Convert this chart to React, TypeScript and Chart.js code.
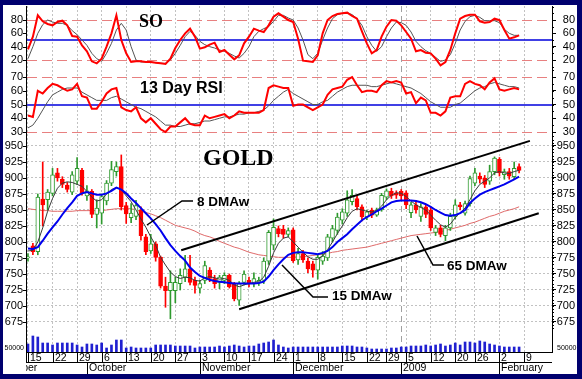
import React, { useEffect, useRef } from 'react';
import { Chart, registerables } from 'chart.js';
Chart.register(...registerables);

// ---------------- data (trading-day index 0 = 15 Sep 2008) ----------------
const openP = [775,794,785,867,866,876,908,898,889,878,895,912,872,879,843,845,864,892,910,918,857,838,840,850,808,786,797,776,731,724,724,735,745,758,740,728,740,756,743,737,740,748,735,709,737,740,735,736,740,770,795,821,820,812,819,772,782,770,766,756,770,775,806,818,834,845,863,868,855,839,850,842,850,870,879,877,879,877,846,858,840,855,850,815,822,810,822,840,858,845,860,892,903,900,895,910,929,905,910,902,918];
const highP = [782,798,875,925,882,915,915,902,893,910,932,915,888,882,866,875,896,926,925,936,862,860,865,855,812,812,800,778,745,755,745,758,779,779,745,740,770,760,748,748,752,750,737,738,755,745,752,745,775,818,836,825,826,822,822,790,787,775,770,780,785,812,826,845,852,880,882,872,858,850,853,853,876,883,884,880,882,880,862,865,860,858,855,826,826,826,845,866,862,864,903,915,908,904,920,933,932,914,915,925,922];
const lowP = [770,780,780,825,850,872,895,885,878,874,890,873,865,838,822,828,858,888,903,850,829,830,835,803,780,782,770,728,698,680,705,725,738,733,720,720,735,738,728,727,735,728,708,701,733,730,730,732,735,765,788,808,806,808,768,765,768,752,745,742,765,771,800,812,828,840,858,850,833,835,838,840,848,866,868,868,865,852,838,845,832,838,818,810,808,802,818,836,850,842,856,888,892,885,890,905,903,898,898,898,908];
const closeP = [777,785,870,858,878,905,900,890,882,905,915,876,880,843,853,871,892,913,918,855,844,845,857,810,785,797,776,731,724,737,737,748,758,737,732,735,763,743,735,745,748,730,711,735,750,735,743,740,770,815,823,813,812,818,771,782,772,758,756,776,778,808,821,839,847,866,873,855,839,847,842,850,873,880,872,873,872,858,858,850,855,843,822,822,812,822,840,858,855,860,899,908,898,890,910,931,908,910,903,915,912];
const ma8 = [786,787,800,822,848,868,884,892,894,893,890,887,879,870,864,866,875,882,885,882,872,863,850,836,823,808,795,776,764,753,746,743,745,744,740,739,744,746,744,742,743,740,733,730,733,735,737,738,745,762,783,798,806,808,800,792,784,777,773,773,778,788,800,813,825,838,848,852,850,848,847,849,856,866,873,877,876,871,864,858,854,850,842,834,827,823,828,838,846,853,866,880,890,895,900,908,910,908,907,910,912];
const ma15 = [790,789,792,802,813,823,832,843,853,862,872,876,878,876,874,874,876,880,885,882,876,868,861,853,845,837,828,818,806,795,786,778,771,760,753,747,744,741,739,738,737,736,735,735,735,735,735,736,738,746,756,765,773,780,783,784,784,783,782,781,783,786,792,800,806,812,820,827,834,839,843,848,852,857,862,864,865,865,865,864,862,859,855,850,846,842,841,842,845,850,861,868,874,878,881,884,887,890,894,898,902];
const ma65 = [852,851,850,849,849,848,848,848,848,848,849,849,849,849,849,849,850,851,852,852,852,852,850,848,846,844,841,838,834,830,826,824,822,820,817,813,810,808,805,801,798,795,792,790,787,784,782,780,779,778,777,776,776,776,776,777,777,778,779,780,781,782,784,785,787,788,789,790,791,792,794,796,798,800,802,804,806,808,810,811,812,813,814,815,816,818,820,822,824,826,829,831,834,837,840,842,845,848,850,852,855];
const soFast = [36,55,87,78,74,72,77,79,72,56,55,42,33,18,15,22,40,60,87,50,30,17,18,18,17,17,16,15,14,22,38,50,60,67,55,37,39,43,46,32,35,28,21,27,45,55,67,64,62,72,85,90,85,80,77,52,19,18,17,27,60,80,86,89,90,91,86,82,63,45,30,35,55,70,80,79,72,62,52,33,35,31,30,22,12,17,35,60,82,86,88,88,78,76,77,82,80,65,52,54,57];
const soSlow = [22,40,60,73,80,77,75,75,72,64,58,50,42,30,22,18,30,45,65,75,65,40,20,17,17,17,16,15,15,20,30,42,55,63,57,48,43,40,38,35,33,30,26,23,30,40,55,63,67,70,78,87,87,83,80,68,50,28,22,30,50,68,82,88,90,91,88,82,72,55,42,33,40,55,68,77,76,72,62,48,40,34,30,24,18,20,28,45,65,78,85,87,84,79,79,79,76,66,60,57,57];
const rsiFast = [42,41,60,58,62,65,64,62,60,61,65,56,55,47,47,52,58,61,62,48,46,45,48,40,37,40,36,32,30,34,34,37,40,36,35,35,42,40,41,42,43,40,42,45,44,44,44,44,46,62,64,63,62,62,49,50,50,48,46,48,50,57,61,62,63,68,70,64,59,60,60,59,64,67,66,67,66,58,59,51,55,53,44,44,42,45,55,56,56,65,67,65,64,61,66,69,61,60,61,62,61];
const rsiSlow = [33,35,40,46,52,57,59,61,62,62,62,59,57,55,53,53,53,55,56,54,52,50,48,47,45,43,41,38,35,35,34,34,35,36,36,37,38,38,39,40,41,41,42,43,43,44,44,45,46,49,53,56,59,61,58,56,54,52,50,50,52,53,56,59,61,63,64,64,64,64,63,63,64,65,66,65,64,63,62,60,58,55,52,50,48,48,48,50,51,54,57,60,62,63,65,66,65,64,63,63,62];
const volume = [40,80,75,45,45,35,45,45,45,45,35,25,40,40,35,45,20,35,60,60,20,25,20,20,20,20,35,35,35,35,30,30,30,30,20,25,25,25,25,30,25,30,35,30,25,30,30,40,45,50,60,35,25,20,25,25,25,25,25,25,25,25,25,25,30,30,30,25,25,20,15,15,15,15,20,20,25,25,30,30,30,35,30,35,40,30,35,45,35,50,50,45,55,50,40,35,30,25,25,25,25];

const dayTickIndex = [0,5,10,15,20,25,30,35,40,45,50,54,59,64,69,73,77,82,87,91,96,101];
const dayTickLabels = ['15','22','29','6','13','20','27','3','10','17','24','1','8','15','22','29','5','12','20','26','2','9'];
const monthStartIndex = [-9,12,35,54,76,96];
const monthLabels = ['September','October','November','December','2009','February'];
const yearStartIndex = 76;

const soTicks = [20,40,60,80];
const rsiTicks = [30,40,50,60,70];
const priceTicks = [675,700,725,750,775,800,825,850,875,900,925,950];

const channelUpperX = [31.2, 102.2];
const channelUpperY = [787, 958];
const channelLowerX = [43, 104];
const channelLowerY = [695, 845];

// ---------------- helpers ----------------
const isUp = (i: number) => closeP[i] >= openP[i];
const UPC = '#2f9a2f';
const DNC = '#ff0000';
const SANS = '"Liberation Sans", Arial, sans-serif';
const SERIF = '"Liberation Serif", "Times New Roman", serif';

const framePlugin = {
  id: 'frame',
  beforeDraw(chart: any) {
    const { ctx, width, height } = chart;
    ctx.save();
    ctx.fillStyle = '#00006e';
    ctx.fillRect(0, 0, width, height);
    ctx.fillStyle = '#ffffff';
    ctx.fillRect(3, 5, 574, 369);
    ctx.restore();
  },
};

const refLines = [
  { axis: 'ySO', v: 80, dash: true }, { axis: 'ySO', v: 20, dash: true }, { axis: 'ySO', v: 50, dash: false },
  { axis: 'yRSI', v: 70, dash: true }, { axis: 'yRSI', v: 30, dash: true }, { axis: 'yRSI', v: 50, dash: false },
];

const refLinePlugin = {
  id: 'refLines',
  beforeDatasetsDraw(chart: any) {
    const { ctx, chartArea } = chart;
    ctx.save();
    for (const r of refLines) {
      const y = Math.round(chart.scales[r.axis].getPixelForValue(r.v));
      ctx.beginPath();
      if (r.dash) {
        ctx.strokeStyle = '#e88080';
        ctx.lineWidth = 1;
        ctx.setLineDash([10, 5]);
        ctx.moveTo(chartArea.left, y + 0.5);
        ctx.lineTo(chartArea.right, y + 0.5);
      } else {
        ctx.strokeStyle = '#0000dd';
        ctx.lineWidth = 1.6;
        ctx.setLineDash([]);
        ctx.moveTo(chartArea.left, y);
        ctx.lineTo(chartArea.right, y);
      }
      ctx.stroke();
    }
    // 2009 separator
    const xs = chart.scales.x;
    const xp = Math.round(xs.getPixelForValue(yearStartIndex)) + 0.5;
    ctx.strokeStyle = '#a0a0a0';
    ctx.lineWidth = 1;
    ctx.setLineDash([6, 4]);
    ctx.beginPath();
    ctx.moveTo(xp, chartArea.top);
    ctx.lineTo(xp, chartArea.bottom);
    ctx.stroke();
    ctx.restore();
  },
};

const overlayPlugin = {
  id: 'overlay',
  afterDraw(chart: any) {
    const { ctx, chartArea } = chart;
    const L = chartArea.left, R = chartArea.right, B = chartArea.bottom;
    const xs = chart.scales.x;
    ctx.save();

    // left axis line
    ctx.strokeStyle = '#000';
    ctx.lineWidth = 1;
    ctx.setLineDash([]);
    ctx.beginPath();
    ctx.moveTo(L - 0.5, chartArea.top);
    ctx.lineTo(L - 0.5, B + 11);
    ctx.stroke();

    // y labels both sides + minor ticks
    ctx.fillStyle = '#000';
    ctx.font = `11px ${SANS}`;
    ctx.textBaseline = 'middle';
    const panels: [string, number[], number][] = [['ySO', soTicks, 10], ['yRSI', rsiTicks, 5], ['yMain', priceTicks, 5]];
    for (const [id, ticks, minor] of panels) {
      const s = chart.scales[id];
      for (const v of ticks) {
        const y = s.getPixelForValue(v);
        ctx.textAlign = 'right';
        ctx.fillText(String(v), 575, y);
        ctx.fillText(String(v), 23, y);
        ctx.fillRect(L - 4, Math.round(y), 4, 1);
      }
      for (let v = Math.ceil(s.min / minor) * minor; v <= s.max; v += minor) {
        const y = Math.round(s.getPixelForValue(v));
        ctx.fillRect(R, y, 2, 1);
      }
    }
    // volume label
    const vs = chart.scales.yVol;
    ctx.font = `7px ${SANS}`;
    ctx.textAlign = 'right';
    ctx.fillText('50000', 24, vs.getPixelForValue(20));
    ctx.textAlign = 'left';
    ctx.fillText('50000', R + 5, vs.getPixelForValue(20));

    // titles
    ctx.fillStyle = '#000';
    ctx.textBaseline = 'alphabetic';
    ctx.textAlign = 'left';
    ctx.font = `bold 18px ${SERIF}`;
    ctx.fillText('SO', 139, 27);
    ctx.font = `bold 16px ${SANS}`;
    ctx.fillText('13 Day RSI', 140, 93);
    ctx.font = `bold 24px ${SERIF}`;
    ctx.fillText('GOLD', 203, 165);
    ctx.font = `bold 13.5px ${SANS}`;
    ctx.fillText('8 DMAw', 197, 206);
    ctx.fillText('15 DMAw', 332, 300);
    ctx.fillText('65 DMAw', 447, 270);

    // leader lines
    ctx.strokeStyle = '#000';
    ctx.lineWidth = 1.5;
    const leaders = [
      [[193, 201], [182, 201], [147, 225]],
      [[328, 297], [313, 297], [282, 265]],
      [[444, 265], [433, 265], [417, 236]],
    ];
    for (const pts of leaders) {
      ctx.beginPath();
      ctx.moveTo(pts[0][0], pts[0][1]);
      for (let k = 1; k < pts.length; k++) ctx.lineTo(pts[k][0], pts[k][1]);
      ctx.stroke();
    }

    // date rows
    ctx.save();
    ctx.beginPath();
    ctx.rect(L - 1, B, R - L + 2, 374 - B);
    ctx.clip();
    ctx.lineWidth = 1;
    ctx.strokeStyle = '#000';
    ctx.beginPath();
    ctx.moveTo(L, B + 0.5); ctx.lineTo(R, B + 0.5);
    ctx.moveTo(L, B + 10.5); ctx.lineTo(R, B + 10.5);
    for (const idx of dayTickIndex) {
      const px = Math.round(xs.getPixelForValue(idx)) + 0.5;
      ctx.moveTo(px, B); ctx.lineTo(px, B + 11);
    }
    for (const idx of monthStartIndex) {
      const px = Math.round(xs.getPixelForValue(idx)) + 0.5;
      ctx.moveTo(px, B + 11); ctx.lineTo(px, 374);
    }
    ctx.stroke();
    ctx.fillStyle = '#000';
    ctx.font = `10.5px ${SANS}`;
    ctx.textBaseline = 'middle';
    ctx.textAlign = 'left';
    dayTickIndex.forEach((idx, k) => {
      const px = Math.round(xs.getPixelForValue(idx));
      ctx.fillText(dayTickLabels[k], px + 2, B + 6);
    });
    monthStartIndex.forEach((idx, k) => {
      const px = Math.round(xs.getPixelForValue(idx));
      ctx.fillText(monthLabels[k], px + 2, B + 16);
    });
    ctx.restore();

    ctx.restore();
  },
};

function yAxis(min: number, max: number, ticks: number[], weight: number, stackWeight: number, onArea: boolean) {
  return {
    type: 'linear',
    position: 'right',
    stack: 'panels',
    stackWeight,
    weight,
    min,
    max,
    afterBuildTicks: (s: any) => { s.ticks = ticks.map((v) => ({ value: v })); },
    afterFit: (s: any) => { s.width = 24; },
    ticks: { display: false },
    grid: {
      display: true,
      drawOnChartArea: onArea,
      color: '#c2c2c2',
      lineWidth: 1,
      drawTicks: true,
      tickLength: 4,
      tickColor: '#000',
      tickWidth: 1,
    },
    border: { display: true, color: '#000', width: 1, dash: [2, 2] },
  };
}

export default function App() {
  const ref = useRef<HTMLCanvasElement>(null);
  useEffect(() => {
    document.body.style.margin = '0';
    const canvas = ref.current!;
    const pts = (arr: number[]) => arr.map((v, i) => ({ x: i, y: v }));
    const chart = new Chart(canvas, {
      type: 'line',
      data: {
        datasets: [
          { type: 'line', label: 'upper', data: channelUpperX.map((x, k) => ({ x, y: channelUpperY[k] })), yAxisID: 'yMain', borderColor: '#000', borderWidth: 2, pointRadius: 0, order: 0 } as any,
          { type: 'line', label: 'lower', data: channelLowerX.map((x, k) => ({ x, y: channelLowerY[k] })), yAxisID: 'yMain', borderColor: '#000', borderWidth: 2, pointRadius: 0, order: 0 } as any,
          { type: 'line', label: '15 DMAw', data: pts(ma15), yAxisID: 'yMain', borderColor: '#0000ee', borderWidth: 2, pointRadius: 0, order: 1 } as any,
          { type: 'line', label: '8 DMAw', data: pts(ma8), yAxisID: 'yMain', borderColor: '#3a3a3a', borderWidth: 1, pointRadius: 0, order: 2 } as any,
          { type: 'bar', label: 'body', data: openP.map((o, i) => ({ x: i, y: [o, closeP[i] === o ? o + 0.8 : closeP[i]] })), yAxisID: 'yMain', grouped: false, barThickness: 4, borderWidth: 1, borderSkipped: false,
            backgroundColor: openP.map((_, i) => (isUp(i) ? '#ffffff' : DNC)), borderColor: openP.map((_, i) => (isUp(i) ? UPC : DNC)), order: 3 } as any,
          { type: 'bar', label: 'wick', data: lowP.map((l, i) => ({ x: i, y: [l, highP[i]] })), yAxisID: 'yMain', grouped: false, barThickness: 1, borderWidth: 0,
            backgroundColor: lowP.map((_, i) => (isUp(i) ? UPC : DNC)), order: 4 } as any,
          { type: 'line', label: '65 DMAw', data: pts(ma65), yAxisID: 'yMain', borderColor: '#e06a6a', borderWidth: 1, pointRadius: 0, order: 5 } as any,
          { type: 'line', label: 'SO %K', data: pts(soFast), yAxisID: 'ySO', borderColor: '#ff0000', borderWidth: 2, pointRadius: 0, order: 1 } as any,
          { type: 'line', label: 'SO %D', data: pts(soSlow), yAxisID: 'ySO', borderColor: '#555555', borderWidth: 1, pointRadius: 0, order: 2 } as any,
          { type: 'line', label: 'RSI', data: pts(rsiFast), yAxisID: 'yRSI', borderColor: '#ff0000', borderWidth: 2, pointRadius: 0, order: 1 } as any,
          { type: 'line', label: 'RSI avg', data: pts(rsiSlow), yAxisID: 'yRSI', borderColor: '#555555', borderWidth: 1, pointRadius: 0, order: 2 } as any,
          { type: 'bar', label: 'Volume', data: pts(volume), yAxisID: 'yVol', grouped: false, barThickness: 2, borderWidth: 0, backgroundColor: '#2020d0', order: 3 } as any,
        ],
      },
      options: {
        animation: false,
        responsive: true,
        maintainAspectRatio: false,
        events: [],
        layout: { padding: { left: 27, right: 6, top: 6, bottom: 27 } },
        plugins: { legend: { display: false }, tooltip: { enabled: false }, title: { display: false } },
        elements: { line: { tension: 0 } },
        scales: {
          x: {
            type: 'linear',
            min: -0.2,
            max: 106.7,
            offset: false,
            afterBuildTicks: (s: any) => { s.ticks = dayTickIndex.map((v) => ({ value: v })); },
            afterFit: (s: any) => { s.height = 0; },
            ticks: { display: false },
            grid: { display: true, offset: false, drawTicks: false, color: '#c2c2c2', lineWidth: 1 },
            border: { display: false, dash: [2, 2] },
          },
          ySO: yAxis(5, 101, soTicks, 1, 64, false),
          yRSI: yAxis(27.1, 75.1, rsiTicks, 2, 66, false),
          yMain: yAxis(662.5, 965.6, priceTicks, 3, 194, true),
          yVol: yAxis(0, 110, [], 4, 22, false),
        } as any,
      },
      plugins: [framePlugin, refLinePlugin, overlayPlugin],
    } as any);
    return () => chart.destroy();
  }, []);
  return (
    <div style={{ width: 582, height: 379, position: 'relative' }}>
      <canvas ref={ref} style={{ display: 'block' }} />
    </div>
  );
}
